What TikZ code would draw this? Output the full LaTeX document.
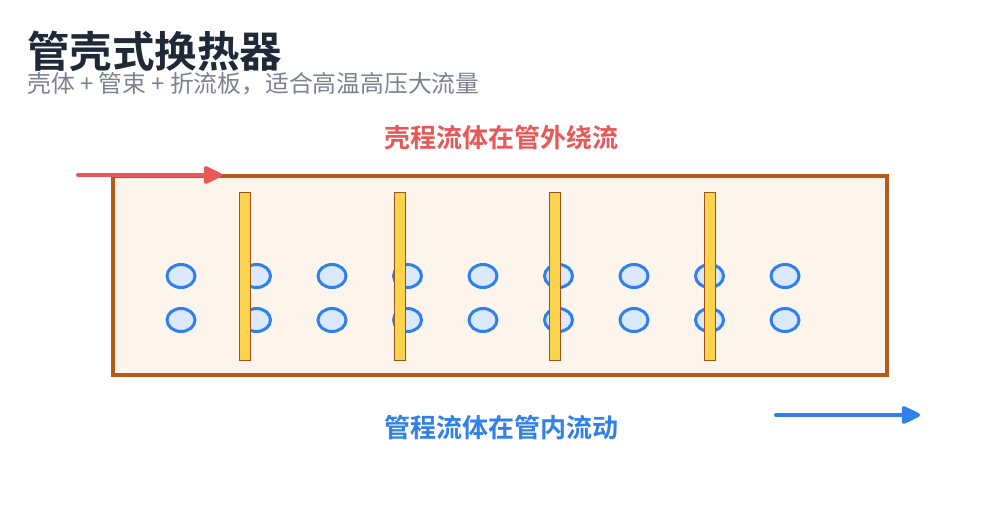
\documentclass[tikz,border=0pt]{standalone}
\usepackage{fontspec}
\setmainfont{Noto Sans CJK SC}
\newfontfamily\cjkb{Noto Sans CJK SC Bold}
\usetikzlibrary{shapes.geometric,arrows.meta}
\definecolor{shellc}{HTML}{B85A17}
\definecolor{shellf}{HTML}{FDF5EC}
\definecolor{bafff}{HTML}{FCD34D}
\definecolor{baffd}{HTML}{A0521D}
\definecolor{tubed}{HTML}{2F80ED}
\definecolor{tubef}{HTML}{DBE9FD}
\definecolor{redc}{HTML}{E85858}
\definecolor{bluec}{HTML}{2F80E8}
\definecolor{titlec}{HTML}{1F2937}
\definecolor{subc}{HTML}{7B8190}
\tikzset{
  shellbox/.style={draw=shellc,fill=shellf,line width=3.5pt,rectangle,inner sep=0pt},
  baffle/.style={draw=baffd,fill=bafff,line width=1.5pt,rectangle,inner sep=0pt,minimum width=11pt,minimum height=168pt},
  tube/.style={draw=tubed,fill=tubef,line width=3pt,ellipse,inner sep=0pt,minimum width=28pt,minimum height=23pt},
  flowarrow/.style={line width=4pt,line cap=round,-{Triangle[length=21pt,width=19pt,round]}},
  lbl/.style={inner sep=0pt,anchor=base}
}
\begin{document}
\begin{tikzpicture}[x=1pt,y=-1pt]
\useasboundingbox (0,0) rectangle (1000,512);
\node[lbl,anchor=base west,text=titlec,font=\cjkb\fontsize{42.5}{44}\selectfont] (title) at (27,67) {管壳式换热器};
\node[lbl,anchor=base west,text=subc,font=\fontsize{23.8}{26}\selectfont] (sub) at (27,92) {壳体 + 管束 + 折流板，适合高温高压大流量};
\node[lbl,text=redc,font=\cjkb\fontsize{26}{28}\selectfont] (shelllbl) at (501,147) {壳程流体在管外绕流};
\node[lbl,text=bluec,font=\cjkb\fontsize{26}{28}\selectfont] (tubelbl) at (501,437) {管程流体在管内流动};
\node[shellbox,minimum width=774pt,minimum height=199pt] (shell) at (500,275.5) {};
\foreach \i in {0,...,8}{
  \node[tube] (ta\i) at ({181+75.5*\i},276) {};
  \node[tube] (tb\i) at ({181+75.5*\i},320) {};
}
\foreach \i/\x in {1/245,2/400,3/555,4/710}{
  \node[baffle] (b\i) at (\x,276.5) {};
}
\coordinate (rin) at (78,175);
\coordinate (rout) at (222,175);
\draw[flowarrow,redc] (rin) -- (rout);
\coordinate (bin) at (776,415);
\coordinate (bout) at (920,415);
\draw[flowarrow,bluec] (bin) -- (bout);
\end{tikzpicture}
\end{document}
